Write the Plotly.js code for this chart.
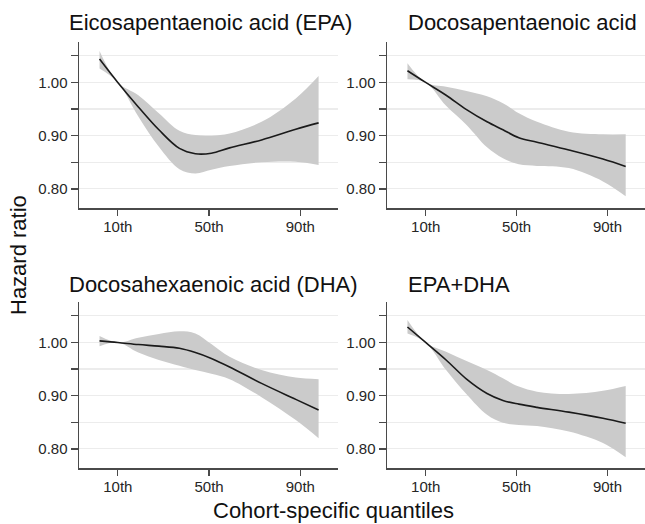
<!DOCTYPE html>
<html>
<head>
<meta charset="utf-8">
<script src="https://cdn.plot.ly/plotly-3.0.1.min.js"></script>
<style>html,body{margin:0;padding:0;background:#fff;}#chart{width:645px;height:524px;}</style>
</head>
<body>
<div id="chart"></div>
<script>
// Quantile positions (cohort-specific percentiles)
var quantiles = [2, 10, 19, 28, 37, 44, 51, 59, 73, 88, 98];

var panelTitles = ["Eicosapentaenoic acid (EPA)", "Docosapentaenoic acid", "Docosahexaenoic acid (DHA)", "EPA+DHA"];

// Eicosapentaenoic acid (EPA)
var epaHR    = [1.044, 1.00, 0.954, 0.911, 0.876, 0.866, 0.867, 0.877, 0.892, 0.912, 0.924];
var epaUpper = [1.059, 1.00, 0.976, 0.942, 0.909, 0.901, 0.900, 0.904, 0.926, 0.970, 1.012];
var epaLower = [1.026, 1.00, 0.936, 0.879, 0.837, 0.829, 0.836, 0.843, 0.850, 0.851, 0.845];

// Docosapentaenoic acid (DPA)
var dpaHR    = [1.022, 1.00, 0.976, 0.949, 0.926, 0.911, 0.896, 0.8875, 0.873, 0.856, 0.842];
var dpaUpper = [1.036, 1.00, 0.992, 0.984, 0.974, 0.961, 0.942, 0.926, 0.9075, 0.9025, 0.9025];
var dpaLower = [1.006, 1.00, 0.956, 0.920, 0.878, 0.8575, 0.846, 0.843, 0.839, 0.814, 0.786];

// Docosahexaenoic acid (DHA)
var dhaHR    = [1.003, 1.00, 0.996, 0.993, 0.989, 0.981, 0.970, 0.954, 0.923, 0.893, 0.873];
var dhaUpper = [1.012, 1.00, 1.009, 1.016, 1.021, 1.017, 0.997, 0.973, 0.948, 0.934, 0.931];
var dhaLower = [0.993, 1.00, 0.981, 0.967, 0.956, 0.948, 0.941, 0.931, 0.897, 0.854, 0.820];

// EPA+DHA
var sumHR    = [1.029, 1.00, 0.967, 0.931, 0.904, 0.891, 0.884, 0.878, 0.869, 0.8575, 0.848];
var sumUpper = [1.042, 1.00, 0.9825, 0.965, 0.948, 0.9325, 0.917, 0.9075, 0.903, 0.909, 0.918];
var sumLower = [1.017, 1.00, 0.948, 0.9025, 0.864, 0.849, 0.845, 0.843, 0.8325, 0.811, 0.784];

var xTickVals = [10, 50, 90];
var xTickText = ["10th", "50th", "90th"];
var yTickVals = [0.80, 0.85, 0.90, 0.95, 1.00, 1.05];
var yTickText = ["0.80", "", "0.90", "", "1.00", ""];

var panels = [
  {hr: epaHR, up: epaUpper, lo: epaLower},
  {hr: dpaHR, up: dpaUpper, lo: dpaLower},
  {hr: dhaHR, up: dhaUpper, lo: dhaLower},
  {hr: sumHR, up: sumUpper, lo: sumLower}
];

var traces = [];
panels.forEach(function(p, i) {
  var xa = i === 0 ? "x" : "x" + (i + 1);
  var ya = i === 0 ? "y" : "y" + (i + 1);
  traces.push({x: quantiles, y: p.up, xaxis: xa, yaxis: ya, mode: "lines",
    line: {width: 0, shape: "spline", smoothing: 1}, hoverinfo: "skip", showlegend: false});
  traces.push({x: quantiles, y: p.lo, xaxis: xa, yaxis: ya, mode: "lines", fill: "tonexty",
    fillcolor: "#cbcbcb", line: {width: 0, shape: "spline", smoothing: 1}, hoverinfo: "skip", showlegend: false});
  traces.push({x: quantiles, y: p.hr, xaxis: xa, yaxis: ya, mode: "lines",
    line: {color: "#1a1a1a", width: 1.6, shape: "spline", smoothing: 1}, showlegend: false});
});

var tickFont = {family: "Liberation Sans, Arial, sans-serif", size: 15, color: "#262626"};

function xAxis(domain, anchor) {
  return {domain: domain, anchor: anchor, range: [-7, 106.5], showgrid: false, zeroline: false,
    showline: true, linecolor: "#4a4a4a", linewidth: 1.5, ticks: "outside", ticklen: 6,
    tickcolor: "#4a4a4a", tickwidth: 1.3, tickvals: xTickVals, ticktext: xTickText,
    ticklabelstandoff: -2, tickfont: tickFont, fixedrange: true};
}
function yAxis(domain, anchor) {
  return {domain: domain, anchor: anchor, range: [0.764, 1.076], showgrid: true, gridcolor: "#ececec",
    gridwidth: 1.2, zeroline: false, showline: true, linecolor: "#4a4a4a", linewidth: 1.5,
    ticks: "outside", ticklen: 7, tickcolor: "#4a4a4a", tickwidth: 1.3,
    tickvals: yTickVals, ticktext: yTickText, tickfont: tickFont, fixedrange: true};
}

var dxL = [79 / 645, 338 / 645], dxR = [387 / 645, 1.0];
var dyT = [1 - 208 / 524, 1 - 42 / 524], dyB = [1 - 468 / 524, 1 - 302 / 524];

var titleFont = {family: "Liberation Sans, Arial, sans-serif", size: 22, color: "#111"};
var annots = [
  {text: panelTitles[0], x: 67 / 645, y: 1 - 22 / 524},
  {text: panelTitles[1], x: 406 / 645, y: 1 - 22 / 524},
  {text: panelTitles[2], x: 67 / 645, y: 1 - 284 / 524},
  {text: panelTitles[3], x: 406 / 645, y: 1 - 284 / 524}
].map(function(a) {
  return {text: a.text, x: a.x, y: a.y, xref: "paper", yref: "paper", xanchor: "left", yanchor: "middle",
    showarrow: false, font: titleFont};
});
annots.push({text: "Hazard ratio", x: 18 / 645, y: 1 - 255 / 524, xref: "paper", yref: "paper",
  xanchor: "center", yanchor: "middle", textangle: -90, showarrow: false, font: titleFont});
annots.push({text: "Cohort-specific quantiles", x: 333 / 645, y: 1 - 510 / 524, xref: "paper", yref: "paper",
  xanchor: "center", yanchor: "middle", showarrow: false, font: titleFont});

var layout = {
  width: 645, height: 524, margin: {l: 0, r: 0, t: 0, b: 0},
  paper_bgcolor: "#fff", plot_bgcolor: "#fff", showlegend: false,
  xaxis: xAxis(dxL, "y"), yaxis: yAxis(dyT, "x"),
  xaxis2: xAxis(dxR, "y2"), yaxis2: yAxis(dyT, "x2"),
  xaxis3: xAxis(dxL, "y3"), yaxis3: yAxis(dyB, "x3"),
  xaxis4: xAxis(dxR, "y4"), yaxis4: yAxis(dyB, "x4"),
  annotations: annots
};

Plotly.newPlot("chart", traces, layout, {displayModeBar: false, staticPlot: true});
</script>
</body>
</html>
